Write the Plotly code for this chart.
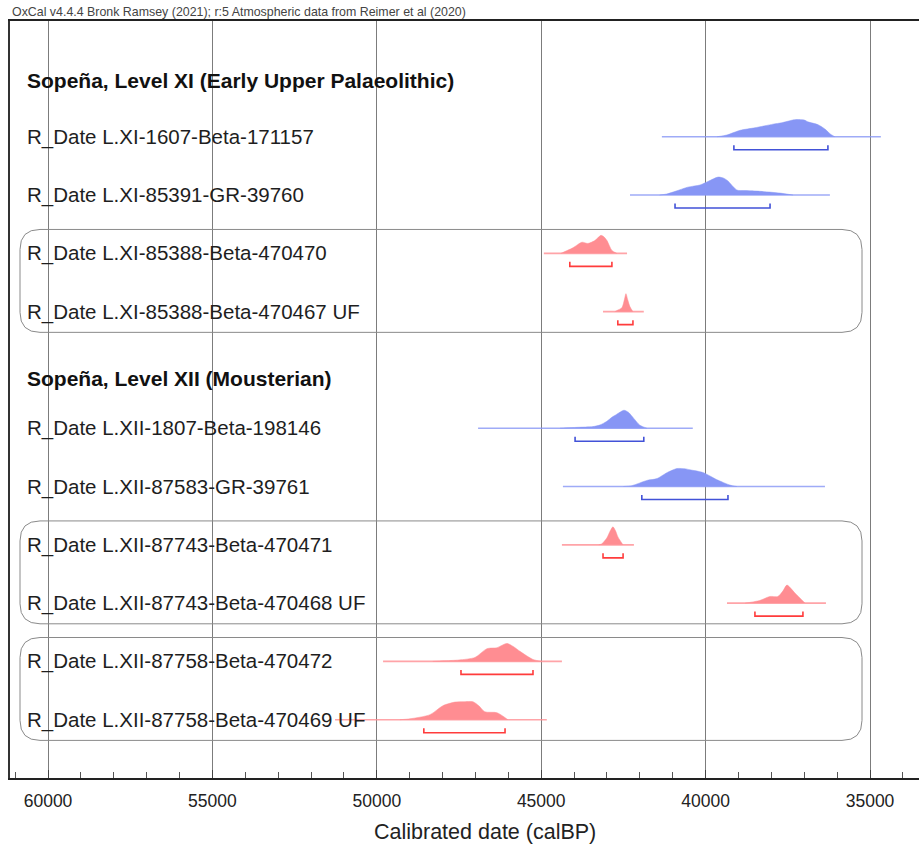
import plotly.graph_objects as go

# ---------------- data ----------------
section_titles = ["Sopeña, Level XI (Early Upper Palaeolithic)", "Sopeña, Level XII (Mousterian)"]
section_slots = [0, 5]

row_labels = [
    "R_Date L.XI-1607-Beta-171157",
    "R_Date L.XI-85391-GR-39760",
    "R_Date L.XI-85388-Beta-470470",
    "R_Date L.XI-85388-Beta-470467 UF",
    "R_Date L.XII-1807-Beta-198146",
    "R_Date L.XII-87583-GR-39761",
    "R_Date L.XII-87743-Beta-470471",
    "R_Date L.XII-87743-Beta-470468 UF",
    "R_Date L.XII-87758-Beta-470472",
    "R_Date L.XII-87758-Beta-470469 UF",
]
row_slots = [1, 2, 3, 4, 6, 7, 8, 9, 10, 11]
row_kind = ["blue", "blue", "red", "red", "blue", "blue", "red", "red", "red", "red"]
boxed_groups = [(2, 3), (6, 7), (8, 9)]

# posterior density outlines (calBP, relative height)
dens_x = [
    [39650, 39350, 38950, 38500, 37950, 37680, 37350, 37220, 37000, 36890, 36580, 36350, 36220, 36070],
    [41400, 41180, 40900, 40540, 40170, 39900, 39620, 39450, 39320, 39050, 38800, 38440, 37740, 37340],
    [44400, 44340, 44035, 43760, 43580, 43370, 43183, 43100, 43000, 42850, 42700],
    [42760, 42700, 42545, 42470, 42423, 42370, 42302, 42210],
    [44430, 43900, 43430, 43200, 43000, 42850, 42700, 42484, 42350, 42240, 42000, 41784],
    [42500, 42240, 41784, 41480, 41176, 40872, 40600, 40477, 40082, 39656, 39260, 39047],
    [43250, 43153, 43001, 42900, 42819, 42740, 42667, 42514],
    [38800, 38652, 38348, 38044, 37800, 37650, 37526, 37283, 36979],
    [48300, 47988, 47500, 47015, 46650, 46346, 46200, 46042, 45850, 45647, 45252, 44978],
    [49300, 48991, 48383, 47988, 47623, 47350, 47076, 46900, 46711, 46346, 46012],
]
dens_h = [
    [0, .1, .36, .5, .7, .78, .93, .96, .93, .83, .67, .4, .17, 0],
    [0, .06, .22, .44, .56, .78, 1, .94, .78, .28, .25, .22, .11, 0],
    [0, .05, .31, .62, .55, .71, 1, .93, .71, .16, 0],
    [0, .06, .22, .67, 1, .67, .28, 0],
    [0, .05, .09, .19, .39, .61, .78, 1, .89, .67, .17, 0],
    [0, .05, .34, .44, .77, 1, .98, .93, .78, .38, .08, 0],
    [0, .06, .39, .78, 1, .78, .44, 0],
    [0, .04, .15, .37, .37, .67, 1, .56, 0],
    [0, .03, .08, .22, .71, .76, .89, 1, .83, .56, .11, 0],
    [0, .05, .28, .78, .98, 1, 1, .78, .44, .39, 0],
]
# extent of faint likelihood line
like_start = [41330, 42300, 44920, 43120, 46920, 44340, 44370, 39350, 49810, 51270]
like_end = [34670, 36220, 42390, 41880, 40390, 36370, 42180, 36340, 44370, 44830]
# 95.4% ranges
range_old = [39140, 40930, 44130, 42670, 43970, 41940, 43120, 38500, 47440, 48570]
range_young = [36280, 38040, 42850, 42210, 41880, 39320, 42510, 37040, 45250, 46100]

x_ticks = [60000, 55000, 50000, 45000, 40000, 35000]
x_title = "Calibrated date (calBP)"
header = "OxCal v4.4.4 Bronk Ramsey (2021); r:5 Atmospheric data from Reimer et al (2020)"

# ---------------- styles ----------------
FILL = {"blue": "#8796f5", "red": "#ff8d92"}
LIKE = {"blue": "rgba(135,150,245,0.8)", "red": "rgba(255,141,146,0.8)"}
BAR = {"blue": "#4252d8", "red": "#ff3c3c"}
FONT = "Arial, Liberation Sans, Helvetica, sans-serif"
HEAD_OFFSETS = [0.03, 0.15]
BOX_PAD_TOP, BOX_PAD_BOT = 0.41, 0.355

W, H = 919, 845
ML, MR, MT, MB = 10, 0, 21, 67
PW, PH = W - ML - MR, H - MT - MB
X_RANGE = [61156, 33510]
Y_RANGE = [12.0, -0.986]
ROW_PX = PH / (Y_RANGE[0] - Y_RANGE[1])
H_SCALE = 18 / ROW_PX
BAR_OFF = 13 / ROW_PX
TICK_H = 4.5 / ROW_PX

fig = go.Figure()

for i, lab in enumerate(row_labels):
    s = row_slots[i]
    k = row_kind[i]
    fig.add_trace(go.Scatter(x=[like_start[i], like_end[i]], y=[s, s], mode="lines",
                             line=dict(color=LIKE[k], width=1.6), hoverinfo="skip", showlegend=False))
    fig.add_trace(go.Scatter(x=dens_x[i], y=[s - h * H_SCALE for h in dens_h[i]], mode="lines",
                             fill="toself", fillcolor=FILL[k],
                             line=dict(color=FILL[k], width=0.5, shape="spline", smoothing=0.7),
                             hoverinfo="skip", showlegend=False))
    yb = s + BAR_OFF
    fig.add_trace(go.Scatter(x=[range_old[i], range_old[i], range_young[i], range_young[i]],
                             y=[yb - TICK_H, yb, yb, yb - TICK_H], mode="lines",
                             line=dict(color=BAR[k], width=1.6), hoverinfo="skip", showlegend=False))

annotations = []
for i, lab in enumerate(row_labels):
    annotations.append(dict(x=15 / PW, xref="paper", y=row_slots[i], yref="y", text=lab,
                            showarrow=False, xanchor="left", yanchor="middle",
                            font=dict(family=FONT, size=20.5, color="#1e1e1e")))
for t, s, off in zip(section_titles, section_slots, HEAD_OFFSETS):
    annotations.append(dict(x=15 / PW, xref="paper", y=s + off, yref="y", text="<b>%s</b>" % t,
                            showarrow=False, xanchor="left", yanchor="middle",
                            font=dict(family=FONT, size=21, color="#111")))
annotations.append(dict(x=0, xref="paper", y=1 + 9 / PH, yref="paper", text=header, showarrow=False,
                        xanchor="left", yanchor="middle", font=dict(family=FONT, size=12.4, color="#444")))
annotations.append(dict(x=(485 - ML) / PW, xref="paper", y=-(832 - (H - MB)) / PH, yref="paper",
                        text=x_title, showarrow=False, xanchor="center", yanchor="middle",
                        font=dict(family=FONT, size=21.5, color="#222")))

shapes = []
rx, ry = 20 / PW, 20 / ROW_PX
bx0, bx1 = (20 - ML) / PW, (862 - ML) / PW
for a, b in boxed_groups:
    y0 = row_slots[a] - BOX_PAD_TOP
    y1 = row_slots[b] + BOX_PAD_BOT
    path = (f"M {bx0 + rx},{y0} L {bx1 - rx},{y0} Q {bx1},{y0} {bx1},{y0 + ry} "
            f"L {bx1},{y1 - ry} Q {bx1},{y1} {bx1 - rx},{y1} L {bx0 + rx},{y1} "
            f"Q {bx0},{y1} {bx0},{y1 - ry} L {bx0},{y0 + ry} Q {bx0},{y0} {bx0 + rx},{y0} Z")
    shapes.append(dict(type="path", path=path, xref="paper", yref="y",
                       line=dict(color="#8a8a8a", width=1), layer="above"))

fig.update_layout(
    width=W, height=H, margin=dict(l=ML, r=MR, t=MT, b=MB),
    paper_bgcolor="white", plot_bgcolor="white",
    annotations=annotations, shapes=shapes, showlegend=False,
    xaxis=dict(range=X_RANGE, tickvals=x_ticks, ticktext=[str(v) for v in x_ticks],
               showgrid=True, gridcolor="#7c7c7c", gridwidth=1, zeroline=False,
               showline=True, linecolor="#222", linewidth=1.5, mirror=True,
               ticks="inside", ticklen=8, tickcolor="#444", layer="above traces",
               minor=dict(dtick=1000, tick0=0, ticks="inside", ticklen=6, tickcolor="#555", showgrid=False),
               tickfont=dict(family=FONT, size=17.5, color="#222"), ticklabelstandoff=6),
    yaxis=dict(range=Y_RANGE, showgrid=False, zeroline=False, showticklabels=False, ticks="",
               showline=True, linecolor="#333", linewidth=2),
)

fig.write_html("out.html", config={"displayModeBar": False},
               post_script="document.body.style.margin='0';document.body.style.overflow='hidden';")
